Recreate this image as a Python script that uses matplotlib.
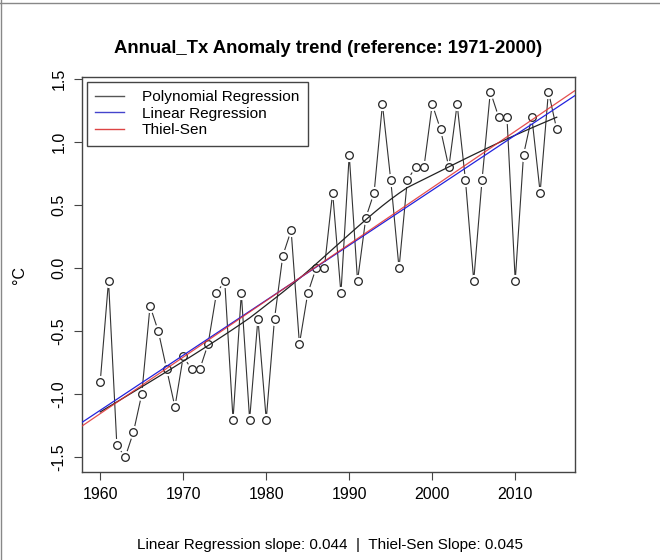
import matplotlib
matplotlib.use("Agg")
import matplotlib.pyplot as plt
from matplotlib.lines import Line2D
import numpy as np

plt.rcParams['font.family'] = ['Liberation Sans', 'DejaVu Sans']

# annual Tx anomaly
years = list(range(1960, 2016))
anomaly = [-0.9, -0.1, -1.4, -1.5, -1.3, -1.0, -0.3, -0.5, -0.8, -1.1,
           -0.7, -0.8, -0.8, -0.6, -0.2, -0.1, -1.2, -0.2, -1.2, -0.4,
           -1.2, -0.4, 0.1, 0.3, -0.6, -0.2, 0.0, 0.0, 0.6, -0.2,
           0.9, -0.1, 0.4, 0.6, 1.3, 0.7, 0.0, 0.7, 0.8, 0.8,
           1.3, 1.1, 0.8, 1.3, 0.7, -0.1, 0.7, 1.4, 1.2, 1.2,
           -0.1, 0.9, 1.2, 0.6, 1.4, 1.1]
x_ticks = [1960, 1970, 1980, 1990, 2000, 2010]
y_ticks = [-1.5, -1.0, -0.5, 0.0, 0.5, 1.0, 1.5]

x = np.array(years, dtype=float)
y = np.array(anomaly)


def lowess(x, y, f=2/3, iters=3):
    # same smoother as R's lowess()
    n = len(x)
    r = int(np.ceil(f * n))
    h = np.array([np.sort(np.abs(x - x[i]))[r - 1] for i in range(n)])
    w = np.clip(np.abs((x[:, None] - x[None, :]) / h[None, :]), 0, 1)
    w = (1 - w ** 3) ** 3
    yest = np.zeros(n)
    delta = np.ones(n)
    for it in range(iters + 1):
        for i in range(n):
            wt = delta * w[:, i]
            A = np.array([[wt.sum(), (wt * x).sum()], [(wt * x).sum(), (wt * x * x).sum()]])
            b = np.array([(wt * y).sum(), (wt * y * x).sum()])
            beta = np.linalg.solve(A, b)
            yest[i] = beta[0] + beta[1] * x[i]
        res = y - yest
        s = np.median(np.abs(res))
        d = np.clip(res / (6 * s), -1, 1)
        delta = (1 - d ** 2) ** 2
    return yest


# fits
lin = np.polyfit(x, y, 1)
smooth = lowess(x, y)
pairs = [(y[j] - y[i]) / (x[j] - x[i]) for i in range(len(x)) for j in range(i + 1, len(x))]
ts_slope = np.median(pairs)
ts_int = np.median(y - ts_slope * x)

fig = plt.figure(figsize=(6.6, 5.6), dpi=100)
ax = fig.add_axes([0.1242, 0.1571, 0.747, 0.7054])

# data line with R type="b" style gaps around the points
ax.plot(x, y, color='#333333', lw=0.8, zorder=2)
ax.plot(x, y, ls='none', marker='o', ms=8.5, mfc='white', mec='white', zorder=3)
ax.plot(x, y, ls='none', marker='o', ms=5.5, mfc='none', mec='#222222', mew=0.9, zorder=4)

xl = np.array([1957.8, 2017.2])
ax.plot(x, smooth, color='#222222', lw=0.9, zorder=5)
ax.plot(xl, np.polyval(lin, xl), color='#2222dd', lw=0.9, zorder=5)
ax.plot(xl, ts_slope * xl + ts_int, color='#e03030', lw=0.9, zorder=5, alpha=0.85)

ax.set_xlim(1957.8, 2017.2)
ax.set_ylim(-1.616, 1.516)
ax.set_xticks(x_ticks)
ax.set_yticks(y_ticks)
ax.set_yticklabels(['%.1f' % v for v in y_ticks], rotation=90, va='center')
ax.tick_params(labelsize=11.5, length=6, width=0.8, color='#444444', pad=5)
for s in ax.spines.values():
    s.set_color('#444444')
    s.set_linewidth(1)

ax.set_ylabel('°C', fontsize=11.5, labelpad=18)
ax.set_title('Annual_Tx Anomaly trend (reference: 1971-2000)', fontsize=13.3,
             fontweight='bold', pad=17)

handles = [Line2D([], [], color='#555555', lw=1),
           Line2D([], [], color='#4444cc', lw=1),
           Line2D([], [], color='#dd4444', lw=1)]
leg = ax.legend(handles, ['Polynomial Regression', 'Linear Regression', 'Thiel-Sen'],
                loc='upper left', fontsize=11.1, fancybox=False, framealpha=1,
                edgecolor='#444444', borderaxespad=0.3, handlelength=1.9,
                labelspacing=0.17, borderpad=0.55, handletextpad=1.15)
leg.get_frame().set_linewidth(1)

fig.text(0.5, 1 - 545 / 560, 'Linear Regression slope: %.3f  |  Thiel-Sen Slope: %.3f' % (lin[0], ts_slope),
         ha='center', va='center', fontsize=11)

# screenshot border at top and left
fig.add_artist(Line2D([0, 1], [0.995, 0.995], transform=fig.transFigure, color='#888888', lw=1))
fig.add_artist(Line2D([0.002, 0.002], [0, 1], transform=fig.transFigure, color='#888888', lw=1))

fig.savefig('out.png', dpi=100)
